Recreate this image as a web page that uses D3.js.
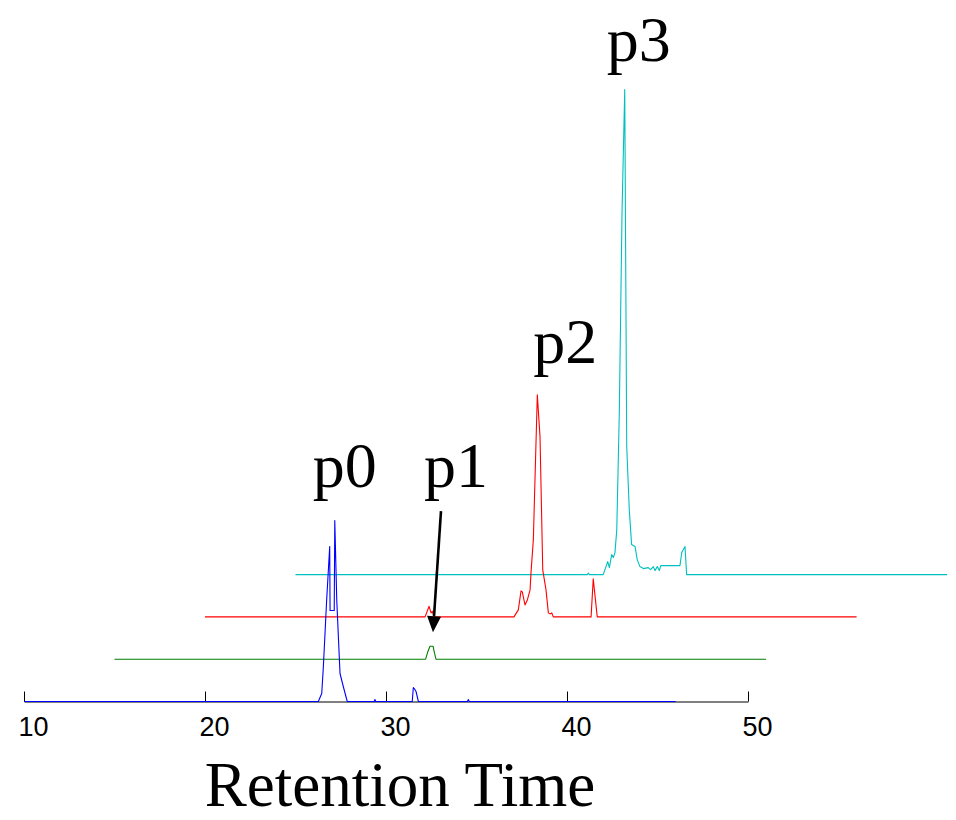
<!DOCTYPE html>
<html>
<head>
<meta charset="utf-8">
<script src="https://cdn.jsdelivr.net/npm/d3@7"></script>
<style>
  body { margin: 0; background: #fff; }
  svg { display: block; }
</style>
</head>
<body>
<svg id="chart" width="956" height="820"></svg>
<script>
// Stacked chromatograms: each run is shifted right in time and up in intensity.
const sampleNames = ["p0", "p1", "p2", "p3"];
const timeOffsets = [0, 5, 10, 15];            // min
const intensityOffsets = [0, 42.3, 84.6, 126.9];
const xTicks = [10, 20, 30, 40, 50];

// [retention time (min), detector response]
const traceP0 = [[10,0],[26.26,0],[26.45,8],[26.54,35],[26.72,101],[26.89,155],[26.91,91],[27.14,91],
  [27.17,181],[27.28,101],[27.46,28],[27.64,15],[27.86,0],[29.35,0],[29.39,2],[29.43,0],
  [31.45,0],[31.51,14],[31.56,13],[31.66,10],[31.79,0],[34.5,0],[34.55,2],[34.6,0],[46,0]];
const traceP1 = [[10,0],[27.19,0],[27.32,8],[27.43,13],[27.60,13],[27.68,6],[27.76,0],[46,0]];
const traceP2 = [[10,0],[22.16,0],[22.38,10.6],[22.49,4],[22.56,5.6],[22.65,0],[27.07,0],[27.31,7],
  [27.46,26],[27.53,25],[27.68,12],[27.81,17],[27.96,27],[28.01,44],[28.14,77],[28.36,222],
  [28.51,180],[28.66,47],[28.84,27],[28.97,4],[29.06,3],[29.16,4],[29.24,0],[31.33,0],
  [31.45,38],[31.67,0],[46,0]];
const traceP3 = [[10,0],[26.12,0],[26.18,1.5],[26.24,0],[27.00,0],[27.25,13],[27.34,7],[27.47,20],
  [27.56,17],[27.65,22],[27.75,45],[27.89,162],[28.04,362],[28.19,485],[28.30,128],[28.44,65],
  [28.57,30],[28.76,28],[28.88,15],[29.03,8],[29.22,6],[29.49,7],[29.62,5],[29.77,8],[29.86,4],
  [29.99,8],[30.10,4],[30.18,9],[31.24,9],[31.34,22],[31.52,28],[31.61,0],[46,0]];

const traces = [traceP0, traceP1, traceP2, traceP3];
const colors = ["#0000ff", "#007f00", "#ff0000", "#00bfbf"];

const svg = d3.select("#chart");
svg.append("rect").attr("width", 956).attr("height", 820).attr("fill", "#fff");

const x = d3.scaleLinear().domain([10, 50]).range([24, 748]);
const y = d3.scaleLinear().domain([0, 700]).range([701.5, 1.5]);

// time axis: ticks point up into the plot
const axis = d3.axisBottom(x).tickValues(xTicks).tickSizeInner(-10).tickSizeOuter(0)
  .tickFormat(d3.format("d"));
const gAxis = svg.append("g").attr("transform", `translate(0,${y(0)})`).call(axis);
gAxis.select(".domain").attr("stroke", "#000").attr("stroke-width", 1);
gAxis.selectAll(".tick line").attr("stroke", "#000").attr("stroke-width", 1);
gAxis.selectAll(".tick text")
  .attr("dy", null).attr("y", 34.5).attr("x", 9)
  .attr("fill", "#000")
  .style("font-family", "'Liberation Sans', Arial, Helvetica, sans-serif")
  .style("font-size", "27px");

// traces, drawn back to front so the first run sits on top
const line = d3.line();
for (let i = traces.length - 1; i >= 0; i--) {
  line.x(d => x(d[0] + timeOffsets[i])).y(d => y(d[1] + intensityOffsets[i]));
  svg.append("path")
    .attr("d", line(traces[i]))
    .attr("fill", "none")
    .attr("stroke", colors[i])
    .attr("stroke-width", 1.1)
    .attr("stroke-linejoin", "round");
}

// peak apex of each run in screen space
const apex = traces.map((t, i) => {
  const top = t.reduce((a, b) => (b[1] > a[1] ? b : a));
  return [x(top[0] + timeOffsets[i]), y(top[1] + intensityOffsets[i])];
});

const serif = "'Liberation Serif', 'Times New Roman', Times, serif";
const labelShift = [[10, -34], [26, -159], [28, -32], [14, -29]];
sampleNames.forEach((name, i) => {
  svg.append("text")
    .attr("x", apex[i][0] + labelShift[i][0])
    .attr("y", apex[i][1] + labelShift[i][1])
    .attr("text-anchor", "middle")
    .style("font-family", serif)
    .style("font-size", "64px")
    .attr("fill", "#000")
    .text(name);
});

// arrow pointing at the small p1 peak
const tip = [apex[1][0] + 3, apex[1][1] - 14];
const tail = [tip[0] + 8, tip[1] - 121];
const ang = Math.atan2(tip[1] - tail[1], tip[0] - tail[0]);
const headLen = 16, headHalf = 7;
const base = [tip[0] - headLen * Math.cos(ang), tip[1] - headLen * Math.sin(ang)];
const nx = -Math.sin(ang), ny = Math.cos(ang);
svg.append("line")
  .attr("x1", tail[0]).attr("y1", tail[1]).attr("x2", base[0]).attr("y2", base[1])
  .attr("stroke", "#000").attr("stroke-width", 2.6);
svg.append("polygon")
  .attr("points", [tip, [base[0] + nx * headHalf, base[1] + ny * headHalf],
                   [base[0] - nx * headHalf, base[1] - ny * headHalf]].map(p => p.join(",")).join(" "))
  .attr("fill", "#000");

svg.append("text")
  .attr("x", 400).attr("y", 806)
  .attr("text-anchor", "middle")
  .style("font-family", serif)
  .style("font-size", "63px")
  .attr("fill", "#000")
  .text("Retention Time");
</script>
</body>
</html>
